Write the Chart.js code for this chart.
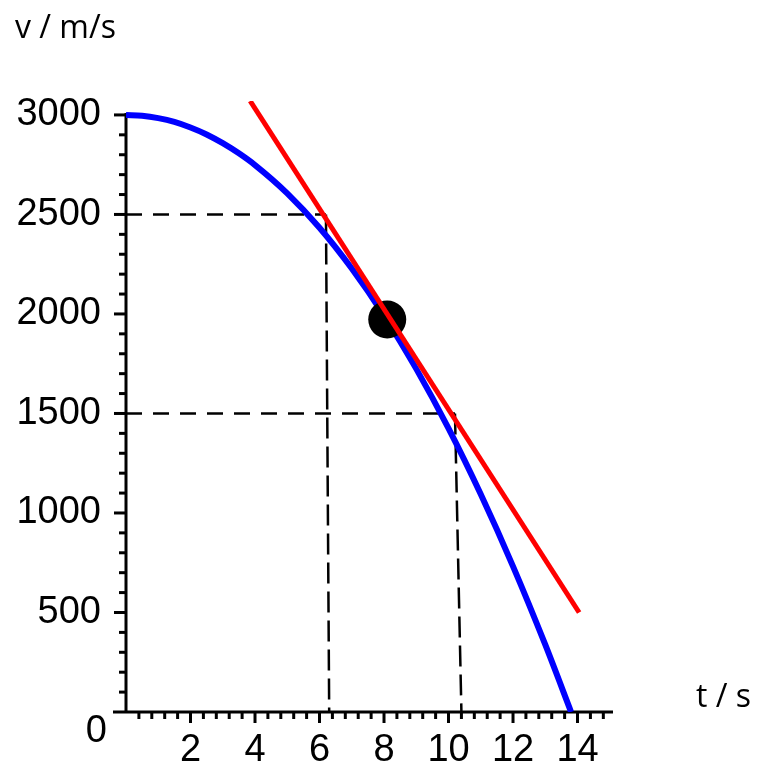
<!DOCTYPE html>
<html>
<head>
<meta charset="utf-8">
<script src="https://cdn.jsdelivr.net/npm/chart.js@4/dist/chart.umd.min.js"></script>
<style>
  body { margin: 0; background: #fff; }
  #wrap { width: 758px; height: 767px; position: relative; }
</style>
</head>
<body>
<div id="wrap"><canvas id="chart"></canvas></div>
<script>
// velocity curve (blue)
const curveT = [0, 0.5, 1, 1.5, 2, 2.5, 3, 3.5, 4, 5, 6, 7, 8, 9, 10, 11, 12, 13, 13.8];
const curveV = [3000, 2996, 2984, 2965, 2937, 2902, 2858, 2807, 2748, 2606, 2433, 2228, 1992, 1724, 1425, 1094, 732, 338, 0];

// tangent line (red)
const tangentT = [3.85, 14.05];
const tangentV = [3070, 500];

// marked point
const pointT = [8.1];
const pointV = [1972];

// dashed guide lines
const guideAT = [0, 6.2, 6.3];
const guideAV = [2500, 2500, 0];
const guideBT = [0, 10.2, 10.4];
const guideBV = [1500, 1500, 0];

// tick labels
const xTickLabels = [2, 4, 6, 8, 10, 12, 14];
const yTickLabels = [0, 500, 1000, 1500, 2000, 2500, 3000];

const toXY = (ts, vs) => ts.map((t, i) => ({ x: t, y: vs[i] }));
const near = (a, b) => Math.abs(a - b) < 1e-6;

const guideDash = ctx => ctx.p0.parsed.y === ctx.p1.parsed.y ? [16, 11] : [21, 8];

const axesPlugin = {
  id: "axesDraw",
  beforeDatasetsDraw(chart) {
    const c = chart.ctx;
    const xs = chart.scales.x, ys = chart.scales.y;
    const x0 = xs.getPixelForValue(0), y0 = ys.getPixelForValue(0);
    c.save();
    c.strokeStyle = "#000";
    c.lineWidth = 3;
    c.beginPath();
    c.moveTo(x0, ys.getPixelForValue(3000) - 2);
    c.lineTo(x0, y0);
    c.moveTo(x0 - 13, y0);
    c.lineTo(xs.right, y0);
    c.stroke();
    // y ticks every 100
    ys.ticks.forEach(tk => {
      const v = tk.value;
      if (v <= 0) return;
      const len = yTickLabels.includes(v) ? 12 : 7;
      const py = ys.getPixelForValue(v);
      c.beginPath();
      c.moveTo(x0 - len, py);
      c.lineTo(x0, py);
      c.stroke();
    });
    // x ticks every 0.4
    xs.ticks.forEach(tk => {
      const v = tk.value;
      if (v <= 0) return;
      const major = xTickLabels.some(l => near(l, v));
      const px = xs.getPixelForValue(v);
      c.beginPath();
      c.moveTo(px, y0);
      c.lineTo(px, y0 + (major ? 11 : 7));
      c.stroke();
    });
    c.restore();
  },
  afterDraw(chart) {
    const c = chart.ctx;
    const xs = chart.scales.x, ys = chart.scales.y;
    c.save();
    c.fillStyle = "#000";
    c.font = "32px 'Open Sans'";
    c.textBaseline = "alphabetic";
    c.fillText("v / m/s", 15, 38);
    c.fillText("t / s", 696, 707);
    // origin label sits below the axis
    c.font = "38px 'Liberation Sans'";
    c.textAlign = "right";
    c.textBaseline = "middle";
    c.fillText("0", xs.getPixelForValue(0) - 19, ys.getPixelForValue(0) + 20);
    c.restore();
  }
};

new Chart(document.getElementById("chart"), {
  type: "scatter",
  data: {
    datasets: [
      {
        label: "tangent",
        data: toXY(tangentT, tangentV),
        showLine: true,
        borderColor: "#ff0000",
        borderWidth: 5,
        pointRadius: 0
      },
      {
        label: "point",
        data: toXY(pointT, pointV),
        backgroundColor: "#000",
        borderWidth: 0,
        pointRadius: 19
      },
      {
        label: "v(t)",
        data: toXY(curveT, curveV),
        showLine: true,
        cubicInterpolationMode: "monotone",
        borderColor: "#0000ff",
        borderWidth: 6,
        pointRadius: 0
      },
      {
        label: "guide 2500",
        data: toXY(guideAT, guideAV),
        showLine: true,
        borderColor: "#000",
        borderWidth: 2.5,
        pointRadius: 0,
        segment: { borderDash: guideDash }
      },
      {
        label: "guide 1500",
        data: toXY(guideBT, guideBV),
        showLine: true,
        borderColor: "#000",
        borderWidth: 2.5,
        pointRadius: 0,
        segment: { borderDash: guideDash }
      }
    ]
  },
  options: {
    responsive: true,
    maintainAspectRatio: false,
    animation: false,
    layout: { padding: { left: 0, right: 145, top: 101, bottom: 0 } },
    plugins: {
      legend: { display: false },
      tooltip: { enabled: false }
    },
    scales: {
      x: {
        type: "linear",
        min: 0,
        max: 15.1,
        grid: { display: false },
        border: { display: false },
        afterBuildTicks: s => {
          const ticks = [];
          for (let k = 0; k <= 37; k++) ticks.push({ value: Math.round(k * 4) / 10 });
          s.ticks = ticks;
        },
        afterFit: s => { s.height = 55; },
        ticks: {
          autoSkip: false,
          maxRotation: 0,
          padding: 8,
          color: "#000",
          font: { family: "'Liberation Sans'", size: 38 },
          callback: v => {
            const l = xTickLabels.find(t => near(t, v));
            return l === undefined ? "" : String(l);
          }
        }
      },
      y: {
        type: "linear",
        min: 0,
        max: 3070,
        grid: { display: false },
        border: { display: false },
        afterBuildTicks: s => {
          const ticks = [];
          for (let v = 0; v <= 3000; v += 100) ticks.push({ value: v });
          s.ticks = ticks;
        },
        afterFit: s => { s.width = 126; },
        ticks: {
          autoSkip: false,
          padding: 17,
          color: "#000",
          font: { family: "'Liberation Sans'", size: 38 },
          callback: v => (v !== 0 && yTickLabels.includes(v)) ? String(v) : ""
        }
      }
    }
  },
  plugins: [axesPlugin]
});
</script>
</body>
</html>
